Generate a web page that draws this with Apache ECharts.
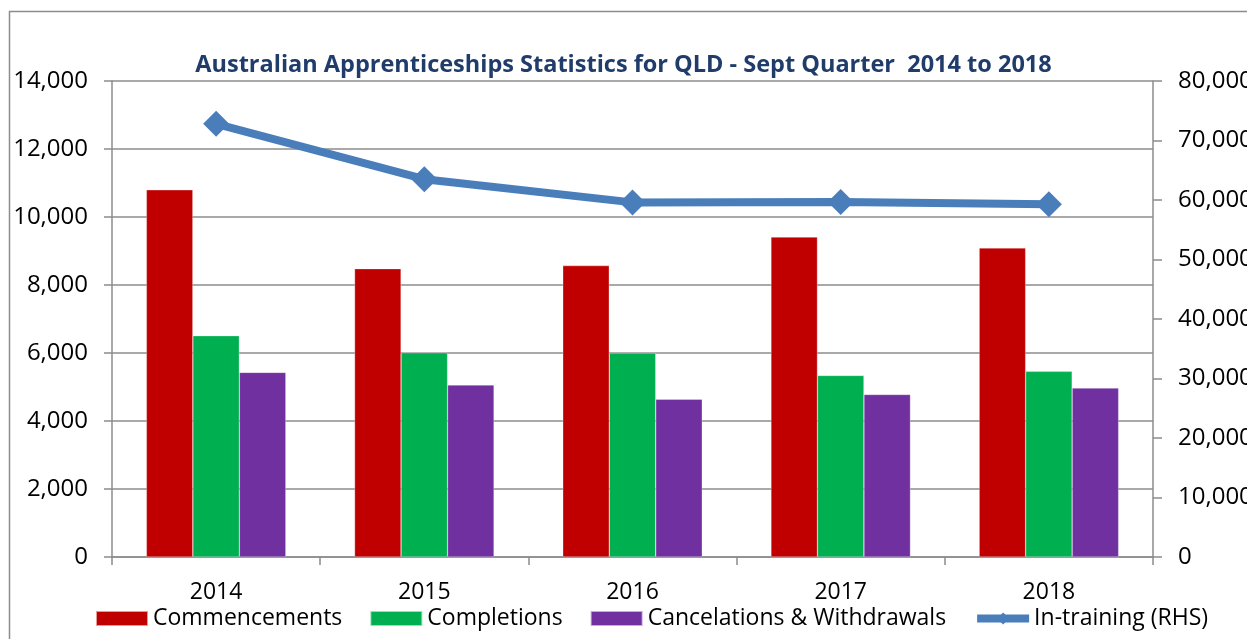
<!DOCTYPE html>
<html>
<head>
<meta charset="utf-8">
<script src="https://cdn.jsdelivr.net/npm/echarts@6/dist/echarts.min.js"></script>
<style>
  html, body { margin: 0; padding: 0; background: #fff; overflow: hidden; }
  #chart { width: 1247px; height: 639px; }
</style>
</head>
<body>
<div id="chart"></div>
<script>
const years = ['2014', '2015', '2016', '2017', '2018'];
const commencements = [10800, 8480, 8570, 9410, 9090];
const completions = [6510, 6010, 6000, 5340, 5460];
const cancelations = [5430, 5060, 4640, 4780, 4970];
const inTraining = [72800, 63500, 59600, 59650, 59300];

const leftTicks = { min: 0, max: 14000, interval: 2000 };
const rightTicks = { min: 0, max: 80000, interval: 10000 };

const font = '"Open Sans", Lato, sans-serif';
const grey = '#8c8c8c';
const fmt = (v) => v.toLocaleString('en-US');

const chart = echarts.init(document.getElementById('chart'));

const barSeries = (name, data, color) => ({
  name,
  type: 'bar',
  data,
  barGap: '0%',
  barCategoryGap: '33%',
  itemStyle: { color, borderColor: 'rgba(255,255,255,0.6)', borderWidth: 0.5 },
});

chart.setOption({
  animation: false,
  textStyle: { fontFamily: font },
  graphic: [{
    type: 'rect',
    shape: { x: 9.5, y: 11.5, width: 1400, height: 800 },
    style: { fill: 'none', stroke: grey, lineWidth: 1.5 },
    silent: true,
  }],
  title: {
    text: 'Australian Apprenticeships Statistics for QLD - Sept Quarter  2014 to 2018',
    left: 'center',
    top: 48,
    textStyle: { color: '#1f3c6b', fontSize: 23.5, fontWeight: 'bold', fontFamily: font },
  },
  grid: { left: 112, right: 94, top: 81, bottom: 82, outerBoundsMode: 'none' },
  legend: {
    bottom: 9,
    left: 95,
    padding: 0,
    itemWidth: 52,
    itemHeight: 15,
    itemGap: 27,
    textStyle: { color: '#000', fontSize: 23, fontFamily: font },
    data: [
      { name: 'Commencements', icon: 'rect' },
      { name: 'Completions', icon: 'rect' },
      { name: 'Cancelations & Withdrawals', icon: 'rect' },
      { name: 'In-training (RHS)', lineStyle: { width: 8 }, itemStyle: { color: '#4a7ebb' } },
    ],
  },
  xAxis: {
    type: 'category',
    data: years,
    axisLine: { lineStyle: { color: grey, width: 1.5 } },
    axisTick: { show: true, length: 8, lineStyle: { color: grey, width: 1.5 } },
    axisLabel: { color: '#000', fontSize: 23, margin: 24, fontFamily: font },
  },
  yAxis: [
    {
      type: 'value',
      ...leftTicks,
      axisLine: { show: true, lineStyle: { color: grey, width: 1.5 } },
      axisTick: { show: true, length: 8, lineStyle: { color: grey, width: 1.5 } },
      axisLabel: { color: '#000', fontSize: 24, margin: 24, formatter: fmt, fontFamily: font },
      splitLine: { lineStyle: { color: grey, width: 1.5 } },
    },
    {
      type: 'value',
      ...rightTicks,
      position: 'right',
      axisLine: { show: true, lineStyle: { color: grey, width: 1.5 } },
      axisTick: { show: true, length: 9, lineStyle: { color: grey, width: 1.5 } },
      axisLabel: { color: '#000', fontSize: 24, margin: 25, formatter: fmt, fontFamily: font },
      splitLine: { show: false },
    },
  ],
  series: [
    barSeries('Commencements', commencements, '#c00000'),
    barSeries('Completions', completions, '#00b050'),
    barSeries('Cancelations & Withdrawals', cancelations, '#7030a0'),
    {
      name: 'In-training (RHS)',
      type: 'line',
      yAxisIndex: 1,
      data: inTraining,
      symbol: 'diamond',
      symbolSize: 26,
      lineStyle: { color: '#4a7ebb', width: 8 },
      itemStyle: { color: '#4a7ebb' },
      z: 5,
    },
  ],
});
</script>
</body>
</html>
